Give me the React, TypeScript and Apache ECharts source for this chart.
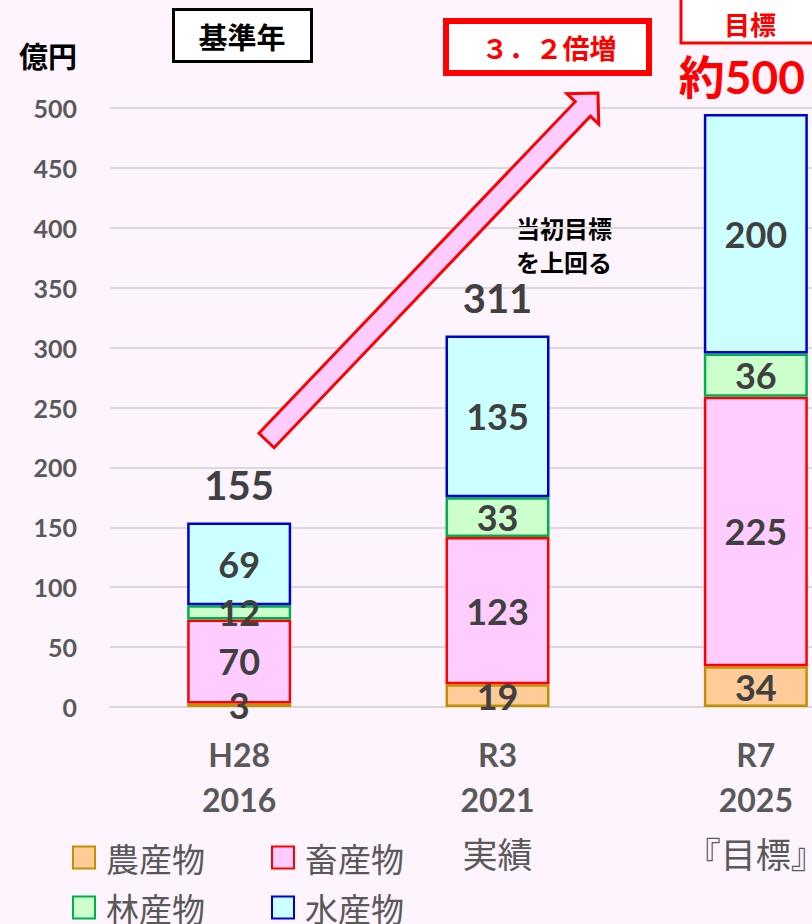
import React, { useEffect, useRef } from "react";
import * as echarts from "echarts";

const categories = ["H28\n2016", "R3\n2021\n実績", "R7\n2025\n『目標』"];
const seriesNames = ["農産物", "畜産物", "林産物", "水産物"];
const agri = [3, 19, 34];
const livestock = [70, 123, 225];
const forest = [12, 33, 36];
const fishery = [69, 135, 200];
const totalLabels = ["155", "311", "約500"];
const yTicks = { min: 0, max: 500, interval: 50 };

const fills = ["#FFCC99", "#FFCCFF", "#CCFFCC", "#CCFFFF"];
const borders = ["#C09000", "#FF0000", "#00B050", "#0000CC"];

const NUM_FONT = 'Lato, "Noto Sans CJK JP", sans-serif';
const JP_FONT = '"Noto Sans CJK JP", sans-serif';

export default function App() {
  const ref = useRef<HTMLDivElement>(null);
  useEffect(() => {
    document.body.style.margin = "0";
    const chart = echarts.init(ref.current!, null, { renderer: "svg" });
    const values = [agri, livestock, forest, fishery];
    const barSeries: any[] = values.map((v, i) => ({
      name: seriesNames[i],
      type: "bar",
      stack: "total",
      barWidth: 104,
      data: v,
      itemStyle: { color: fills[i], borderColor: borders[i], borderWidth: 2.5 },
      label: {
        show: true,
        position: "inside",
        fontFamily: NUM_FONT,
        fontWeight: "bold",
        fontSize: 36,
        color: "#404040",
      },
    }));
    barSeries.push({
      name: "合計",
      type: "bar",
      stack: "total",
      barWidth: 104,
      data: totalLabels.map((t, i) => ({
        value: 0,
        label:
          i === 2
            ? { color: "#FF0000", fontSize: 46, distance: 14, offset: [-14, 0] }
            : {},
      })),
      itemStyle: { color: "transparent" },
      label: {
        show: true,
        position: "top",
        distance: 18,
        fontFamily: NUM_FONT,
        fontWeight: "bold",
        fontSize: 40,
        color: "#404040",
        formatter: (p: any) => totalLabels[p.dataIndex],
      },
    });

    // arrow geometry (annotation)
    const tail = [266.5, 440.5];
    const tip = [598, 93];
    const dx = tip[0] - tail[0];
    const dy = tip[1] - tail[1];
    const len = Math.sqrt(dx * dx + dy * dy);
    const u = [dx / len, dy / len];
    const n = [-u[1], u[0]];
    const hw = 10.5;
    const headLen = 22;
    const headHw = 22;
    const B = [tip[0] - u[0] * headLen, tip[1] - u[1] * headLen];
    const pt = (p: number[], s: number) => [p[0] + n[0] * s, p[1] + n[1] * s];
    const arrowPts = [
      pt(tail, -hw),
      pt(B, -hw),
      pt(B, -headHw),
      tip,
      pt(B, headHw),
      pt(B, hw),
      pt(tail, hw),
    ];

    const legendText = { fontFamily: JP_FONT, fontSize: 33, color: "#595959", padding: [0, 0, 0, 6] };

    chart.setOption({
      animation: false,
      backgroundColor: "#FDF4FD",
      grid: { left: 110, top: 108, width: 775, height: 599, outerBoundsMode: "none" },
      legend: [
        {
          data: seriesNames.slice(0, 2),
          left: 67,
          top: 836,
          itemWidth: 22,
          itemHeight: 22,
          itemGap: 66,
          icon: "rect",
          textStyle: legendText,
        },
        {
          data: seriesNames.slice(2, 4),
          left: 67,
          top: 886,
          itemWidth: 22,
          itemHeight: 22,
          itemGap: 66,
          icon: "rect",
          textStyle: legendText,
        },
      ],
      xAxis: {
        type: "category",
        data: categories,
        axisTick: { show: false },
        axisLine: { lineStyle: { color: "#D9D9D9", width: 2 } },
        axisLabel: {
          interval: 0,
          margin: 25,
          formatter: (v: string) => {
            const parts = v.split("\n");
            return parts.map((p, i) => (i < 2 ? `{a|${p}}` : `{b|${p}}`)).join("\n");
          },
          rich: {
            a: { fontFamily: NUM_FONT, fontWeight: "bold", fontSize: 32, color: "#595959", lineHeight: 45 },
            b: { fontFamily: JP_FONT, fontSize: 35, color: "#595959", lineHeight: 60 },
          },
        },
      },
      yAxis: {
        type: "value",
        min: yTicks.min,
        max: yTicks.max,
        interval: yTicks.interval,
        name: "億円",
        nameLocation: "end",
        nameGap: 53,
        nameTextStyle: {
          fontFamily: JP_FONT,
          fontSize: 29,
          fontWeight: "bold",
          color: "#000000",
          align: "right",
          verticalAlign: "middle",
          padding: [0, 33, 0, 0],
        },
        axisLine: { show: false },
        axisTick: { show: false },
        splitLine: { lineStyle: { color: "#D9D9D9", width: 2 } },
        axisLabel: {
          margin: 33,
          fontFamily: NUM_FONT,
          fontWeight: "bold",
          fontSize: 25,
          color: "#595959",
        },
      },
      series: barSeries,
      graphic: [
        {
          type: "polygon",
          shape: { points: arrowPts },
          style: { fill: "#FFCCFF", stroke: "#FF0000", lineWidth: 3 },
          z: 10,
        },
        {
          type: "rect",
          shape: { x: 173.5, y: 9.5, width: 138, height: 52 },
          style: { fill: "#FFFFFF", stroke: "#000000", lineWidth: 3 },
        },
        {
          type: "text",
          x: 242,
          y: 36,
          style: {
            text: "基準年",
            font: `bold 29px ${JP_FONT}`,
            fill: "#000000",
            align: "center",
            verticalAlign: "middle",
          },
        },
        {
          type: "rect",
          shape: { x: 446, y: 21, width: 203, height: 52 },
          style: { fill: "#FFFFFF", stroke: "#FF0000", lineWidth: 6 },
        },
        {
          type: "text",
          x: 549,
          y: 47,
          style: {
            text: "３．２倍増",
            font: `bold 27px ${JP_FONT}`,
            fill: "#FF0000",
            align: "center",
            verticalAlign: "middle",
          },
        },
        {
          type: "rect",
          shape: { x: 681, y: -10, width: 140, height: 53 },
          style: { fill: "#FFFFFF", stroke: "#FF0000", lineWidth: 3 },
        },
        {
          type: "text",
          x: 750,
          y: 23,
          style: {
            text: "目標",
            font: `bold 26px ${JP_FONT}`,
            fill: "#FF0000",
            align: "center",
            verticalAlign: "middle",
          },
        },
        {
          type: "text",
          x: 516,
          y: 244,
          style: {
            text: "当初目標\nを上回る",
            font: `bold 24px ${JP_FONT}`,
            lineHeight: 34,
            fill: "#000000",
            align: "left",
            verticalAlign: "middle",
          },
        },
      ],
    });
    return () => chart.dispose();
  }, []);
  return <div ref={ref} style={{ width: 812, height: 924 }} />;
}
